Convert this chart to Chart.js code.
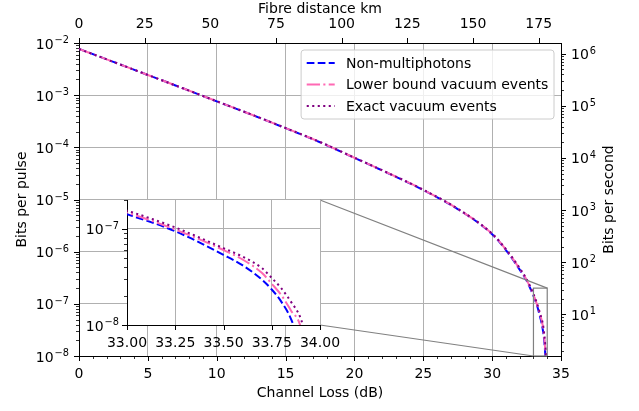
<!DOCTYPE html>
<html>
<head>
<meta charset="utf-8">
<script src="https://cdn.jsdelivr.net/npm/chart.js@4.4.1/dist/chart.umd.min.js"></script>
<style>
    html, body { margin: 0; padding: 0; background: #fff; }
    #wrap { position: relative; width: 639px; height: 411px; }
    #mainChart { position: absolute; left: 0; top: 0; }
    #insetChart { position: absolute; left: 80px; top: 190px; }
</style>
</head>
<body>
<div id="wrap">
    <canvas id="mainChart" width="639" height="411"></canvas>
    <canvas id="insetChart" width="272" height="170"></canvas>
</div>
<script>
// Channel loss in dB (x values shared by all series)
const lossDb = [0, 2.5, 5, 7.5, 10, 12.5, 15, 17.5, 20, 22.5, 25, 27.5, 30, 31, 32, 32.5,
    33, 33.25, 33.5, 33.6, 33.7, 33.75, 33.8, 33.85, 33.9, 33.95];

// Bits per pulse
const nonMultiphoton = [7.7e-3, 4.34e-3, 2.44e-3, 1.37e-3, 7.62e-4, 4.26e-4, 2.33e-4, 1.25e-4, 6.28e-5, 3.14e-5,
    1.52e-5, 6.55e-6, 2.16e-6, 1.07e-6, 4.52e-7, 2.79e-7,
    1.42e-7, 9.46e-8, 5.37e-8, 4.17e-8, 2.95e-8, 2.34e-8, 1.74e-8, 1.15e-8, 5.6e-9, 1.0e-9];
const lowerBoundVacuum = [7.7e-3, 4.34e-3, 2.44e-3, 1.37e-3, 7.64e-4, 4.27e-4, 2.34e-4, 1.26e-4, 6.31e-5, 3.16e-5,
    1.53e-5, 6.61e-6, 2.19e-6, 1.10e-6, 4.68e-7, 2.88e-7,
    1.48e-7, 9.86e-8, 6.03e-8, 4.79e-8, 3.47e-8, 2.69e-8, 2.04e-8, 1.41e-8, 9.5e-9, 2.5e-9];
const exactVacuum = [7.7e-3, 4.34e-3, 2.44e-3, 1.37e-3, 7.65e-4, 4.28e-4, 2.35e-4, 1.27e-4, 6.34e-5, 3.18e-5,
    1.54e-5, 6.66e-6, 2.21e-6, 1.12e-6, 4.84e-7, 2.99e-7,
    1.55e-7, 1.035e-7, 6.31e-8, 5.13e-8, 3.89e-8, 3.09e-8, 2.40e-8, 1.74e-8, 1.17e-8, 5.0e-9];

const seriesLabels = ['Non-multiphotons', 'Lower bound vacuum events', 'Exact vacuum events'];

// Axis ticks
const lossTicks = [0, 5, 10, 15, 20, 25, 30, 35];
const distanceTicks = [0, 25, 50, 75, 100, 125, 150, 175];
const insetLossTicks = [33, 33.25, 33.5, 33.75, 34];

// Axis ranges
const lossRange = [0, 35];
const distanceRange = [0, 183.5];
const bitsRange = [1e-8, 1e-2];
const pulseRate = 1.6e8; // pulses per second -> right axis
const insetLossRange = [33, 34];
const insetBitsRange = [1e-8, 2e-7];

const seriesColors = ['#0000ff', '#ff69b4', '#800080'];
const seriesDashes = [[7.7, 3.3], [13.3, 3.3, 2.1, 3.3], [2.1, 3.4]];
const FONT = '"DejaVu Sans", sans-serif';

Chart.defaults.font.family = FONT;
Chart.defaults.font.size = 14;
Chart.defaults.color = '#000';

function makeDatasets() {
    return [nonMultiphoton, lowerBoundVacuum, exactVacuum].map((vals, i) => ({
        label: seriesLabels[i],
        data: lossDb.map((x, j) => ({ x: x, y: vals[j] })),
        borderColor: seriesColors[i],
        borderDash: seriesDashes[i],
        borderWidth: 2,
        pointRadius: 0,
        fill: false,
        cubicInterpolationMode: 'monotone',
        order: 2 - i
    }));
}

function isDecade(v) {
    const l = Math.log10(v);
    return Math.abs(l - Math.round(l)) < 1e-6;
}
const decadeGrid = ctx => (ctx.tick && isDecade(ctx.tick.value)) ? '#b0b0b0' : 'rgba(0,0,0,0)';

function logTicks(min, max) {
    const major = [], minor = [];
    for (let e = Math.floor(Math.log10(min)); e <= Math.ceil(Math.log10(max)); e++) {
        for (let m = 1; m < 10; m++) {
            const v = m * Math.pow(10, e);
            if (v < min * 0.999 || v > max * 1.001) continue;
            (m === 1 ? major : minor).push(v);
        }
    }
    return { major, minor };
}

function tickMarks(ctx, scale, values, len, width, edge) {
    ctx.save();
    ctx.strokeStyle = '#000';
    ctx.lineWidth = width;
    ctx.beginPath();
    values.forEach(v => {
        const p = Math.round(scale.getPixelForValue(v)) + 0.5;
        if (edge === 'bottom') { ctx.moveTo(p, scale.top); ctx.lineTo(p, scale.top + len); }
        if (edge === 'top') { ctx.moveTo(p, scale.bottom); ctx.lineTo(p, scale.bottom - len); }
        if (edge === 'left') { ctx.moveTo(scale.right, p); ctx.lineTo(scale.right - len, p); }
        if (edge === 'right') { ctx.moveTo(scale.left, p); ctx.lineTo(scale.left + len, p); }
    });
    ctx.stroke();
    ctx.restore();
}

// "10" with a superscript exponent, like mathtext
function powerLabel(ctx, x, y, exp, align) {
    const base = '10';
    const sup = exp < 0 ? '\u2212' + (-exp) : String(exp);
    ctx.save();
    ctx.fillStyle = '#000';
    ctx.textAlign = 'left';
    ctx.textBaseline = 'alphabetic';
    ctx.font = '14px ' + FONT;
    const wb = ctx.measureText(base).width;
    ctx.font = '9.8px ' + FONT;
    const ws = ctx.measureText(sup).width;
    const left = align === 'right' ? x - wb - ws - 1 : x;
    ctx.font = '14px ' + FONT;
    ctx.fillText(base, left, y + 5.5);
    ctx.font = '9.8px ' + FONT;
    ctx.fillText(sup, left + wb + 1, y);
    ctx.restore();
}

function logAxisDecor(ctx, scale, range, edge, labelX, align) {
    const t = logTicks(range[0], range[1]);
    tickMarks(ctx, scale, t.major, 5, 1, edge);
    tickMarks(ctx, scale, t.minor, 3, 0.8, edge);
    t.major.forEach(v => powerLabel(ctx, labelX, scale.getPixelForValue(v), Math.round(Math.log10(v)), align));
}

function drawLegend(chart) {
    const ctx = chart.ctx, area = chart.chartArea, fs = 14;
    ctx.save();
    ctx.font = fs + 'px ' + FONT;
    const textW = Math.max(...seriesLabels.map(s => ctx.measureText(s).width));
    const pad = 0.4 * fs, handle = 2 * fs, gap = 0.8 * fs, rowH = 14.6, spacing = 0.5 * fs;
    const w = 2 * pad + handle + gap + textW;
    const h = 2 * pad + 3 * rowH + 2 * spacing;
    const left = area.right - 0.5 * fs - w, top = area.top + 0.5 * fs, r = 3;

    ctx.beginPath();
    ctx.moveTo(left + r, top);
    ctx.lineTo(left + w - r, top);
    ctx.arcTo(left + w, top, left + w, top + r, r);
    ctx.lineTo(left + w, top + h - r);
    ctx.arcTo(left + w, top + h, left + w - r, top + h, r);
    ctx.lineTo(left + r, top + h);
    ctx.arcTo(left, top + h, left, top + h - r, r);
    ctx.lineTo(left, top + r);
    ctx.arcTo(left, top, left + r, top, r);
    ctx.closePath();
    ctx.fillStyle = 'rgba(255,255,255,0.8)';
    ctx.fill();
    ctx.strokeStyle = '#cccccc';
    ctx.lineWidth = 1;
    ctx.stroke();

    seriesLabels.forEach((label, i) => {
        const cy = top + pad + rowH / 2 + i * (rowH + spacing);
        ctx.save();
        ctx.strokeStyle = seriesColors[i];
        ctx.lineWidth = 2;
        ctx.setLineDash(seriesDashes[i]);
        ctx.beginPath();
        ctx.moveTo(left + pad, cy);
        ctx.lineTo(left + pad + handle, cy);
        ctx.stroke();
        ctx.restore();
        ctx.fillStyle = '#000';
        ctx.textBaseline = 'middle';
        ctx.textAlign = 'left';
        ctx.fillText(label, left + pad + handle + gap, cy + 1);
    });
    ctx.restore();
}

// right-hand axis title reads bottom to top, as in matplotlib
function drawRightTitle(chart, text) {
    const ctx = chart.ctx, area = chart.chartArea;
    ctx.save();
    ctx.translate(chart.width - 30, (area.top + area.bottom) / 2);
    ctx.rotate(-Math.PI / 2);
    ctx.font = '14px ' + FONT;
    ctx.fillStyle = '#000';
    ctx.textAlign = 'center';
    ctx.textBaseline = 'middle';
    ctx.fillText(text, 0, 0);
    ctx.restore();
}

const setTicks = list => scale => { scale.ticks = list.map(v => ({ value: v })); };
const fitHeight = h => s => { s.height = h; s.paddingLeft = 0; s.paddingRight = 0; };
const fitWidth = w => s => { s.width = w; s.paddingTop = 0; s.paddingBottom = 0; };
const titleFont = { size: 14, lineHeight: 1.2 };

// ---------- inset ----------
const insetDecor = {
    id: 'insetDecor',
    beforeDraw(chart) {
        const a = chart.chartArea;
        chart.ctx.save();
        chart.ctx.fillStyle = '#fff';
        chart.ctx.fillRect(a.left, a.top, a.right - a.left, a.bottom - a.top);
        chart.ctx.restore();
    },
    afterDraw(chart) {
        const { ctx, scales } = chart;
        tickMarks(ctx, scales.x, insetLossTicks, 5, 1, 'bottom');
        logAxisDecor(ctx, scales.y, insetBitsRange, 'left', chart.chartArea.left - 8, 'right');
    }
};

const insetChart = new Chart(document.getElementById('insetChart'), {
    type: 'line',
    data: { datasets: makeDatasets() },
    options: {
        responsive: false,
        animation: false,
        layout: { padding: { top: 10, right: 32, left: 0, bottom: 0 } },
        plugins: { legend: { display: false }, tooltip: { enabled: false } },
        scales: {
            x: {
                type: 'linear', min: insetLossRange[0], max: insetLossRange[1],
                afterBuildTicks: setTicks(insetLossTicks),
                ticks: { padding: 9.5, autoSkip: false, maxRotation: 0, minRotation: 0, callback: v => v.toFixed(2) },
                grid: { color: '#b0b0b0', drawTicks: false },
                border: { color: '#000', width: 1 },
                afterFit: fitHeight(35)
            },
            y: {
                type: 'logarithmic', min: insetBitsRange[0], max: insetBitsRange[1],
                ticks: { display: false },
                grid: { color: decadeGrid, drawTicks: false },
                border: { color: '#000', width: 1 },
                afterFit: fitWidth(47)
            }
        }
    },
    plugins: [insetDecor]
});

// ---------- main chart ----------
const mainDecor = {
    id: 'mainDecor',
    afterDatasetsDraw(chart) {
        const { ctx, scales: { x, y } } = chart;
        const x0 = x.getPixelForValue(insetLossRange[0]), x1 = x.getPixelForValue(insetLossRange[1]);
        const yb = y.getPixelForValue(insetBitsRange[0]), yt = y.getPixelForValue(insetBitsRange[1]);
        const c = document.getElementById('insetChart');
        const a = insetChart.chartArea;
        const ir = c.offsetLeft + a.right, it = c.offsetTop + a.top, ib = c.offsetTop + a.bottom;
        ctx.save();
        ctx.strokeStyle = '#808080';
        ctx.lineWidth = 1.2;
        ctx.strokeRect(x0, yt, x1 - x0, yb - yt);
        ctx.beginPath();
        ctx.moveTo(ir, it); ctx.lineTo(x1, yt);
        ctx.moveTo(ir, ib); ctx.lineTo(x0, yb);
        ctx.stroke();
        ctx.restore();
    },
    afterDraw(chart) {
        const { ctx, scales, chartArea } = chart;
        const minor = [];
        for (let v = lossRange[0]; v <= lossRange[1]; v++) if (v % 5 !== 0) minor.push(v);
        tickMarks(ctx, scales.x, lossTicks, 5, 1, 'bottom');
        tickMarks(ctx, scales.x, minor, 3, 0.8, 'bottom');
        tickMarks(ctx, scales.x2, distanceTicks, 5, 1, 'top');
        logAxisDecor(ctx, scales.y, bitsRange, 'left', chartArea.left - 10, 'right');
        logAxisDecor(ctx, scales.y2, [bitsRange[0] * pulseRate, bitsRange[1] * pulseRate], 'right', chartArea.right + 10, 'left');
        drawRightTitle(chart, 'Bits per second');
        drawLegend(chart);
    }
};

new Chart(document.getElementById('mainChart'), {
    type: 'line',
    data: { datasets: makeDatasets() },
    options: {
        responsive: false,
        animation: false,
        layout: { padding: 0 },
        plugins: { legend: { display: false }, tooltip: { enabled: false } },
        scales: {
            x: {
                type: 'linear', position: 'bottom', min: lossRange[0], max: lossRange[1],
                afterBuildTicks: setTicks(lossTicks),
                ticks: { padding: 9.5, autoSkip: false, maxRotation: 0, minRotation: 0, callback: v => String(v) },
                grid: { color: '#b0b0b0', drawTicks: false },
                border: { color: '#000', width: 1 },
                title: { display: true, text: 'Channel Loss (dB)', font: titleFont, padding: { top: 0, bottom: 9.6 } },
                afterFit: fitHeight(55)
            },
            x2: {
                type: 'linear', position: 'top', min: distanceRange[0], max: distanceRange[1],
                afterBuildTicks: setTicks(distanceTicks),
                ticks: { padding: 10.7, autoSkip: false, maxRotation: 0, minRotation: 0, callback: v => String(v) },
                grid: { drawOnChartArea: false, drawTicks: false },
                border: { color: '#000', width: 1 },
                title: { display: true, text: 'Fibre distance km', font: titleFont, padding: { top: 0.6, bottom: 0 } },
                afterFit: fitHeight(43)
            },
            y: {
                type: 'logarithmic', position: 'left', min: bitsRange[0], max: bitsRange[1],
                ticks: { display: false },
                grid: { color: decadeGrid, drawTicks: false },
                border: { color: '#000', width: 1 },
                title: { display: true, text: 'Bits per pulse', font: titleFont, padding: { top: 14.4, bottom: 0 } },
                afterFit: fitWidth(79)
            },
            y2: {
                type: 'logarithmic', position: 'right',
                min: bitsRange[0] * pulseRate, max: bitsRange[1] * pulseRate,
                ticks: { display: false },
                grid: { drawOnChartArea: false, drawTicks: false },
                border: { color: '#000', width: 1 },
                afterFit: fitWidth(78)
            }
        }
    },
    plugins: [mainDecor]
});
</script>
</body>
</html>
